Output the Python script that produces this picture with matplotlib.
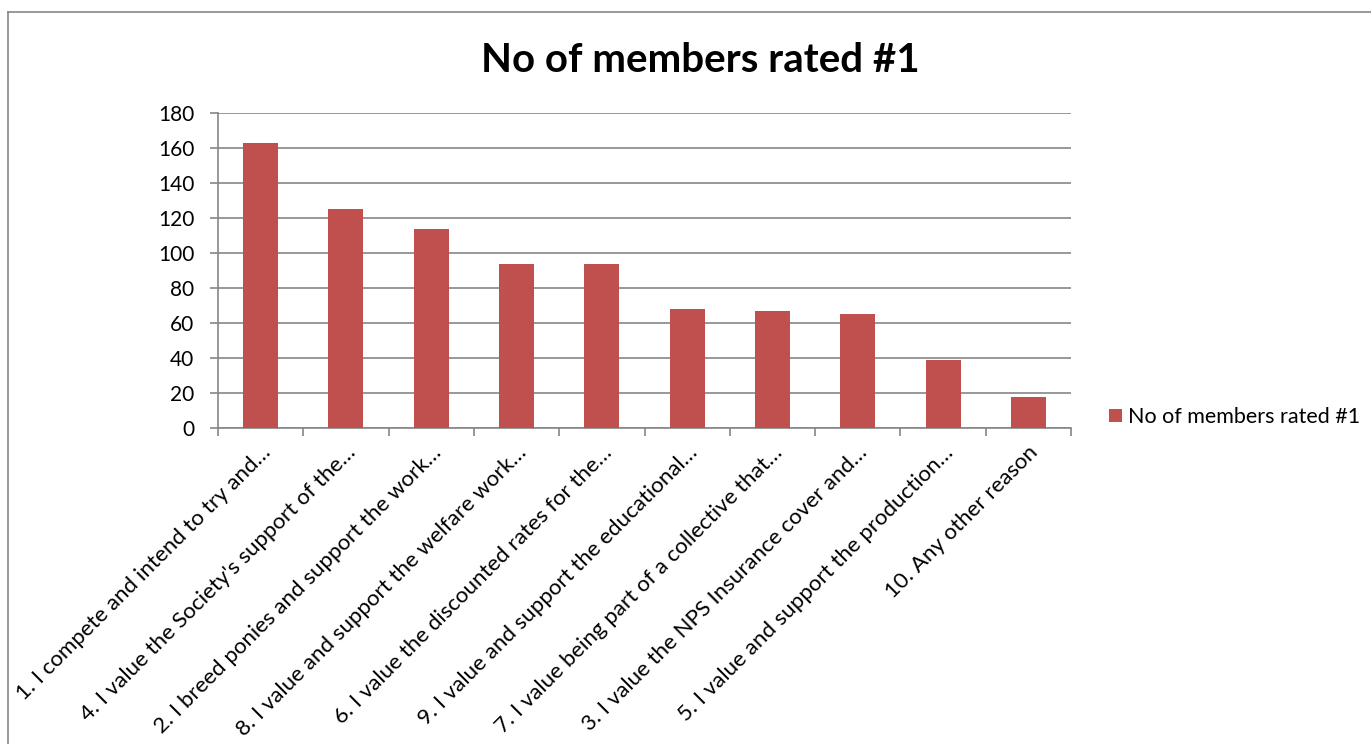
import matplotlib
matplotlib.use("Agg")
import matplotlib.pyplot as plt
from matplotlib.lines import Line2D

categories = [
    "1. I compete and intend to try and…",
    "4. I value the Society's support of the…",
    "2. I breed ponies and support the work…",
    "8. I value and support the welfare work…",
    "6. I value the discounted rates for the…",
    "9. I value and support the educational…",
    "7. I value being part of a collective that…",
    "3. I value the NPS Insurance cover and…",
    "5. I value and support the production…",
    "10. Any other reason",
]
values = [163, 125, 114, 94, 94, 68, 67, 65, 39, 18]
series_name = "No of members rated #1"
yticks = list(range(0, 181, 20))

bar_color = "#C0504D"
grid_color = "#868686"

plt.rcParams["font.family"] = ["Lato", "DejaVu Sans"]

fig = plt.figure(figsize=(13.71, 7.44), dpi=100)
ax = fig.add_axes([218 / 1371, 1 - 428 / 744, (1071 - 218) / 1371, (428 - 113) / 744])

x = list(range(len(categories)))
ax.bar(x, values, width=0.41, color=bar_color, zorder=3, label=series_name)

ax.set_xlim(-0.5, len(categories) - 0.5)
ax.set_ylim(0, 180)
ax.set_yticks(yticks)
ax.set_yticklabels([str(t) for t in yticks], fontsize=15)
ax.yaxis.grid(True, color=grid_color, linewidth=1.2, zorder=0)
ax.tick_params(axis="y", length=6, width=1.2, color=grid_color, direction="out", pad=11)

# category ticks sit between bars
ax.set_xticks([i - 0.5 for i in range(len(categories) + 1)], minor=False)
ax.set_xticklabels([])
ax.tick_params(axis="x", length=6, width=1.2, color=grid_color, direction="out")
for i, lab in enumerate(categories):
    ax.text(i + 0.08, -0.068, lab, transform=ax.get_xaxis_transform(),
            rotation=45, ha="right", va="center", rotation_mode="anchor", fontsize=16)

for side in ["top", "right"]:
    ax.spines[side].set_visible(False)
for side in ["left", "bottom"]:
    ax.spines[side].set_color(grid_color)
    ax.spines[side].set_linewidth(1.2)

fig.text(700 / 1371, 1 - 61 / 744, "No of members rated #1", ha="center", va="center",
         fontsize=29, fontweight="bold")

leg = fig.legend(loc="center left", bbox_to_anchor=(1100 / 1371, 1 - 417 / 744),
                 frameon=False, fontsize=15.5, handlelength=0.6, handleheight=0.6,
                 handletextpad=0.3, borderaxespad=0)

# outer chart frame
fig.add_artist(Line2D([8 / 1371, 8 / 1371], [0, 1 - 12 / 744], color=grid_color, linewidth=1.2,
                      transform=fig.transFigure))
fig.add_artist(Line2D([8 / 1371, 1], [1 - 12 / 744, 1 - 12 / 744], color=grid_color, linewidth=1.2,
                      transform=fig.transFigure))

fig.savefig("out.png", dpi=100)
plt.close(fig)
